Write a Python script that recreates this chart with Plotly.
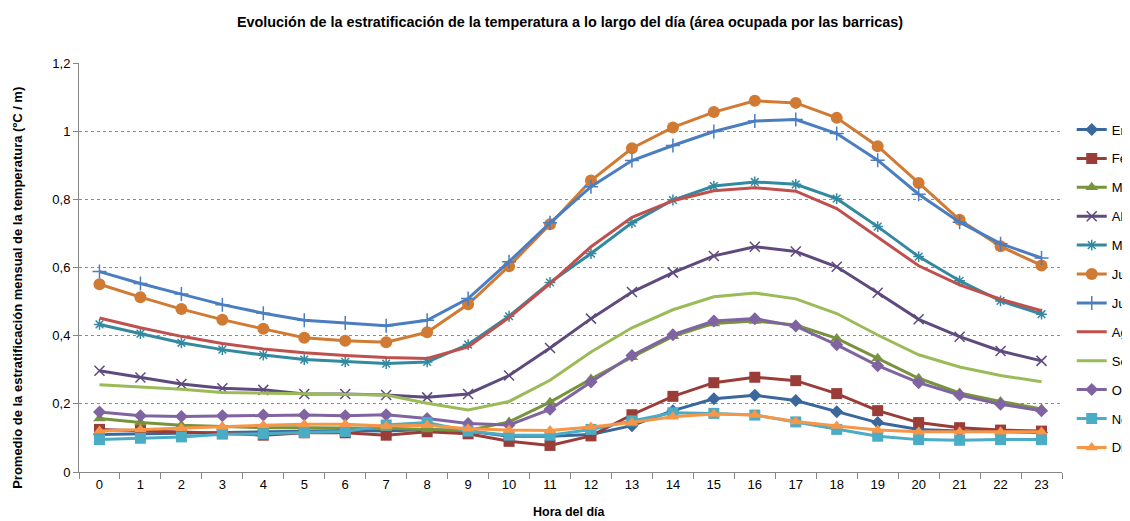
import plotly.graph_objects as go

horas = [str(h) for h in range(24)]

meses = ["Enero", "Febrero", "Marzo", "Abril", "Mayo", "Junio",
         "Julio", "Agosto", "Septiembre", "Octubre", "Noviembre", "Diciembre"]

enero = [0.110, 0.112, 0.115, 0.118, 0.118, 0.120, 0.122, 0.120, 0.125, 0.120, 0.105, 0.105,
         0.110, 0.136, 0.180, 0.215, 0.225, 0.210, 0.177, 0.145, 0.125, 0.120, 0.118, 0.116]
febrero = [0.125, 0.122, 0.118, 0.114, 0.108, 0.115, 0.115, 0.108, 0.118, 0.112, 0.090, 0.078,
           0.106, 0.168, 0.222, 0.262, 0.278, 0.268, 0.230, 0.180, 0.145, 0.130, 0.123, 0.120]
marzo = [0.157, 0.145, 0.137, 0.133, 0.130, 0.130, 0.130, 0.128, 0.125, 0.122, 0.147, 0.205,
         0.273, 0.337, 0.398, 0.436, 0.443, 0.431, 0.392, 0.334, 0.275, 0.232, 0.207, 0.185]
abril = [0.297, 0.277, 0.258, 0.246, 0.241, 0.229, 0.229, 0.226, 0.219, 0.229, 0.283, 0.364,
         0.450, 0.528, 0.585, 0.634, 0.661, 0.647, 0.602, 0.526, 0.448, 0.397, 0.355, 0.326]
mayo = [0.433, 0.406, 0.379, 0.359, 0.343, 0.330, 0.323, 0.318, 0.323, 0.374, 0.457, 0.556,
        0.641, 0.731, 0.798, 0.839, 0.851, 0.844, 0.802, 0.720, 0.632, 0.561, 0.502, 0.463]
junio = [0.551, 0.513, 0.478, 0.447, 0.420, 0.394, 0.385, 0.381, 0.410, 0.492, 0.604, 0.727,
         0.855, 0.950, 1.011, 1.056, 1.089, 1.083, 1.039, 0.956, 0.848, 0.740, 0.662, 0.606]
julio = [0.588, 0.553, 0.522, 0.491, 0.466, 0.445, 0.437, 0.429, 0.445, 0.509, 0.617, 0.731,
         0.837, 0.914, 0.958, 0.999, 1.030, 1.034, 0.993, 0.915, 0.815, 0.733, 0.670, 0.628]
agosto = [0.452, 0.423, 0.398, 0.377, 0.361, 0.350, 0.342, 0.336, 0.333, 0.367, 0.453, 0.553,
          0.661, 0.747, 0.796, 0.825, 0.834, 0.824, 0.773, 0.690, 0.605, 0.549, 0.507, 0.473]
septiembre = [0.256, 0.250, 0.243, 0.233, 0.231, 0.228, 0.226, 0.226, 0.202, 0.182, 0.207, 0.269,
              0.352, 0.423, 0.476, 0.514, 0.525, 0.508, 0.465, 0.402, 0.344, 0.308, 0.283, 0.265]
octubre = [0.176, 0.165, 0.163, 0.165, 0.167, 0.167, 0.165, 0.168, 0.157, 0.142, 0.138, 0.184,
           0.264, 0.342, 0.403, 0.443, 0.450, 0.428, 0.373, 0.312, 0.262, 0.226, 0.199, 0.180]
noviembre = [0.095, 0.099, 0.103, 0.111, 0.112, 0.116, 0.119, 0.138, 0.145, 0.120, 0.108, 0.108,
             0.125, 0.150, 0.174, 0.172, 0.167, 0.147, 0.125, 0.105, 0.095, 0.093, 0.095, 0.095]
diciembre = [0.120, 0.125, 0.128, 0.133, 0.137, 0.140, 0.140, 0.135, 0.137, 0.127, 0.123, 0.122,
             0.132, 0.145, 0.162, 0.170, 0.167, 0.148, 0.135, 0.123, 0.118, 0.118, 0.118, 0.118]

valores = [enero, febrero, marzo, abril, mayo, junio, julio, agosto,
           septiembre, octubre, noviembre, diciembre]

colores = ["#3A679C", "#9A3C38", "#77933C", "#5F4A7E", "#3389A0", "#D07A33",
           "#4A7EC0", "#C0504D", "#9BBB59", "#8064A2", "#4BACC6", "#F79646"]
simbolos = ["diamond", "square", "triangle-up", "x-thin", "asterisk", "circle",
            "cross-thin", None, None, "diamond", "square", "triangle-up"]
tamanos = [10, 11, 11, 10, 9, 12, 10, 0, 0, 10, 11, 11]

FONT = "Liberation Sans, Arial, sans-serif"

fig = go.Figure()
for i, (mes, vals) in enumerate(zip(meses, valores)):
    sym = simbolos[i]
    if sym is None:
        fig.add_trace(go.Scatter(x=horas, y=vals, name=mes, mode="lines",
                                 legendgroup=mes,
                                 line=dict(color=colores[i], width=3)))
    else:
        thin = sym in ("x-thin", "cross-thin", "asterisk")
        marker = dict(symbol=sym, size=tamanos[i], color=colores[i],
                      line=dict(color=colores[i], width=1.5 if thin else 0))
        fig.add_trace(go.Scatter(x=horas, y=vals, name=mes, mode="lines+markers",
                                 legendgroup=mes,
                                 line=dict(color=colores[i], width=3),
                                 marker=marker))

fig.update_layout(
    width=1122, height=513,
    margin=dict(l=71, r=68, t=55, b=49, autoexpand=False),
    paper_bgcolor="white", plot_bgcolor="white",
    separators=",.",
    font=dict(family=FONT, size=13, color="#000000"),
    title=dict(text="<b>Evolución de la estratificación de la temperatura a lo largo del día (área ocupada por las barricas)</b>",
               x=0.5009, xanchor="center", y=0.9727, yanchor="middle",
               font=dict(family=FONT, size=14.4, color="#000000")),
    showlegend=True,
    legend=dict(x=1.0099, xanchor="left", y=0.874, yanchor="top",
                font=dict(family=FONT, size=13, color="#000000"),
                tracegroupgap=9, bgcolor="rgba(0,0,0,0)", itemwidth=30),
    xaxis=dict(type="category", range=[-0.5, 23.5], tickson="boundaries",
               ticks="outside", ticklen=6, tickcolor="#868686",
               showline=True, linecolor="#868686", linewidth=1,
               showgrid=False, zeroline=False,
               tickfont=dict(family=FONT, size=13, color="#000000")),
    yaxis=dict(range=[0, 1.2], dtick=0.2, tick0=0,
               ticks="outside", ticklen=5, tickcolor="#868686",
               showline=True, linecolor="#868686", linewidth=1,
               showgrid=True, gridcolor="#8C8C8C", griddash="dot", gridwidth=1,
               zeroline=False,
               tickfont=dict(family=FONT, size=13, color="#000000")),
    annotations=[
        dict(text="<b>Promedio de la estratificación mensual de la temperatura (ºC / m)</b>",
             xref="paper", yref="paper", x=-0.062, y=0.4504,
             xanchor="center", yanchor="middle", textangle=-90, showarrow=False,
             font=dict(family=FONT, size=13, color="#000000")),
        dict(text="<b>Hora del día</b>",
             xref="paper", yref="paper", x=0.4985, y=-0.0985,
             xanchor="center", yanchor="middle", showarrow=False,
             font=dict(family=FONT, size=12.5, color="#000000")),
    ],
)

fig.write_html("out.html")
